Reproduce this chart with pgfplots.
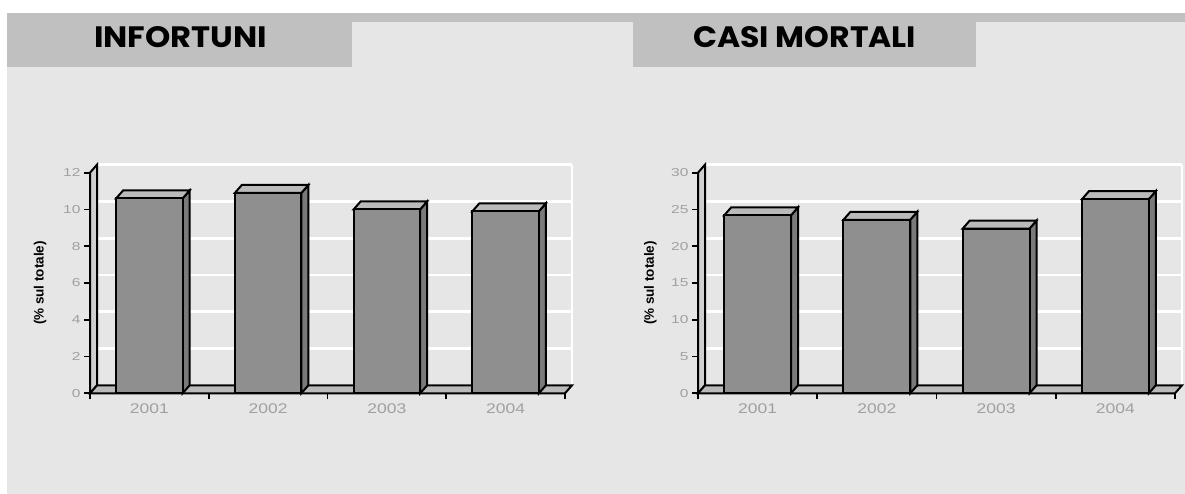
\documentclass[border=0pt]{standalone}
\usepackage{pgfplots}
\usepackage{pgfplotstable}
\pgfplotsset{compat=1.18}
\usepackage{graphicx}
\usepackage{fontspec}
\setmainfont{Liberation Sans}
\newfontfamily\headfont{Poppins}

\definecolor{bggray}{HTML}{E6E6E6}
\definecolor{tabgray}{HTML}{C0C0C0}
\definecolor{frontgray}{HTML}{8F8F8F}
\definecolor{sidegray}{HTML}{7A7A7A}
\definecolor{topgray}{HTML}{BABABA}
\definecolor{wallgray}{HTML}{CFCFCF}
\definecolor{floorgray}{HTML}{BABABA}
\definecolor{tickgray}{HTML}{A0A0A0}

% percentuali sul totale
\pgfplotstableread{
x v
0 10.6
1 10.9
2 10.0
3 9.9
}\infortuni
\pgfplotstableread{
x v
0 24.2
1 23.6
2 22.4
3 26.4
}\mortali

\pgfplotsset{
  wall/.style={fill=wallgray, draw=black, line width=2pt, mark=none},
  floor/.style={fill=floorgray, draw=black, line width=2pt, mark=none},
  side/.style={fill=sidegray, draw=black, line width=2pt, mark=none},
  top/.style={fill=topgray, draw=black, line width=2pt, mark=none},
  bar3d/.style={
    scale only axis, height=220.6pt, clip=false,
    xmin=-0.5, xmax=3.5, ymin=0,
    axis x line=bottom, axis y line=left,
    axis line style={-, black, line width=2pt},
    tick align=outside, major tick length=6pt,
    tick style={black, line width=1.8pt},
    xtick={-0.5,0.5,1.5,2.5,3.5}, xticklabels={,,,,},
    extra x ticks={0,1,2,3},
    extra x tick labels={\scalebox{1.25}[1]{2001},\scalebox{1.25}[1]{2002},\scalebox{1.25}[1]{2003},\scalebox{1.25}[1]{2004}},
    extra x tick style={major tick length=0pt, tick style={draw=none}},
    xticklabel style={font=\fontsize{14}{14}\selectfont, text=tickgray, yshift=-7pt},
    yticklabel style={font=\fontsize{11.5}{11.5}\selectfont, text=tickgray},
    yticklabel={\scalebox{1.35}[1]{\pgfmathprintnumber[assume math mode=true]{\tick}}},
    ymajorgrids,
    major grid style={white, line width=2.6pt, xshift=7pt, yshift=8pt},
    ylabel={(\% sul totale)},
    ylabel style={font=\fontsize{13.5}{13.5}\selectfont\bfseries, anchor=center},
  }
}

% pareti, pavimento e facce laterali/superiori delle barre
\newcommand\threedparts[2]{%
  \pgfmathsetmacro\myWa{-0.5+\myDx}%
  \pgfmathsetmacro\myWb{3.5+\myDx}%
  \pgfmathsetmacro\myWt{#2+\myDy}%
  \edef\myCmd{%
    \noexpand\addplot[draw=white, line width=2.6pt] coordinates {(\myWb,\myDy) (\myWb,\myWt)};
    \noexpand\addplot[wall] coordinates {(-0.5,0) (-0.5,#2) (\myWa,\myWt) (\myWa,\myDy)} --cycle;
    \noexpand\addplot[floor] coordinates {(-0.5,0) (3.5,0) (\myWb,\myDy) (\myWa,\myDy)} --cycle;
  }\myCmd
  \pgfplotsinvokeforeach{0,...,3}{%
    \pgfplotstablegetelem{##1}{v}\of#1%
    \pgfmathsetmacro\myVlo{\pgfplotsretval}%
    \pgfmathsetmacro\myVhi{\pgfplotsretval+\myDy}%
    \pgfmathsetmacro\myXl{##1-\myHw}%
    \pgfmathsetmacro\myXr{##1+\myHw}%
    \pgfmathsetmacro\myXlb{##1-\myHw+\myDx}%
    \pgfmathsetmacro\myXrb{##1+\myHw+\myDx}%
    \edef\myCmd{%
      \noexpand\addplot[side] coordinates {(\myXr,0) (\myXr,\myVlo) (\myXrb,\myVhi) (\myXrb,\myDy)} --cycle;
      \noexpand\addplot[top] coordinates {(\myXl,\myVlo) (\myXr,\myVlo) (\myXrb,\myVhi) (\myXlb,\myVhi)} --cycle;
    }\myCmd
  }%
  \addplot[ybar, bar width=0.56, fill=frontgray, draw=black, line width=2pt, mark=none] table[x=x,y=v]{#1};
}

\begin{document}
\begin{tikzpicture}
\path[use as bounding box] (0pt,0pt) rectangle (1185pt,494pt);
\fill[bggray] (7.3pt,0pt) rectangle (1185pt,472.3pt);
\fill[tabgray] (7.3pt,472.3pt) rectangle (1185pt,480.7pt);
\fill[tabgray] (7.3pt,427.3pt) rectangle (352pt,480.7pt);
\fill[tabgray] (632.7pt,427.3pt) rectangle (976pt,480.7pt);
\node[anchor=base west, inner sep=0] at (94pt,446pt) {\resizebox{173pt}{21pt}{\headfont\bfseries INFORTUNI}};
\node[anchor=base west, inner sep=0] at (693pt,446pt) {\resizebox{223pt}{21pt}{\headfont\bfseries CASI MORTALI}};

\def\myDx{0.059}\def\myDy{0.435}\def\myHw{0.28}
\begin{axis}[bar3d, at={(90pt,100.7pt)}, anchor=south west, width=475pt,
  ymax=12, ytick={0,2,...,12},
  ylabel style={at={(axis description cs:-0.105,0.5)}}]
  \threedparts{\infortuni}{12}
\end{axis}

\def\myDx{0.0587}\def\myDy{1.088}\def\myHw{0.28}
\begin{axis}[bar3d, at={(698pt,100.7pt)}, anchor=south west, width=477pt,
  ymax=30, ytick={0,5,...,30},
  ylabel style={at={(axis description cs:-0.1,0.5)}}]
  \threedparts{\mortali}{30}
\end{axis}
\end{tikzpicture}
\end{document}
